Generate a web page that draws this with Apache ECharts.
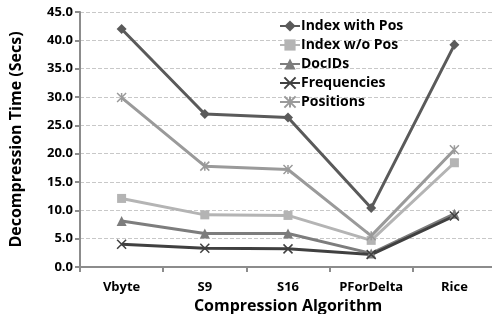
<!DOCTYPE html>
<html>
<head>
<meta charset="utf-8">
<script src="https://cdn.jsdelivr.net/npm/echarts@6/dist/echarts.min.js"></script>
<style>
  html, body { margin: 0; padding: 0; background: #fff; }
  #chart { width: 492px; height: 314px; }
</style>
</head>
<body>
<div id="chart"></div>
<script>
const categories = ["Vbyte", "S9", "S16", "PForDelta", "Rice"];
const indexWithPos = [42.0, 27.0, 26.4, 10.4, 39.2];
const indexWoPos = [12.1, 9.2, 9.1, 4.7, 18.4];
const docIds = [8.1, 5.9, 5.9, 2.4, 9.4];
const frequencies = [4.0, 3.3, 3.2, 2.2, 9.0];
const positions = [29.9, 17.8, 17.2, 5.5, 20.7];

const font = "'Open Sans', sans-serif";
const crossPath = "path://M0,0L10,10M10,0L0,10";
const starPath = "path://M0,0L10,10M10,0L0,10M5,0L5,10";

function makeSeries(name, data, color, symbol, size, stroked) {
  return {
    name: name,
    type: "line",
    data: data,
    symbol: symbol,
    symbolSize: size,
    showSymbol: true,
    lineStyle: { width: 3, color: color },
    itemStyle: stroked
      ? { color: "rgba(0,0,0,0)", borderColor: color, borderWidth: 1.5 }
      : { color: color },
    emphasis: { disabled: true },
  };
}

const chart = echarts.init(document.getElementById("chart"));
chart.setOption({
  animation: false,
  textStyle: { fontFamily: font },
  grid: { left: 80, right: -4, top: 12, bottom: 47, containLabel: false, outerBoundsMode: "none" },
  legend: {
    orient: "vertical",
    left: 274,
    top: 14,
    itemGap: 5,
    itemWidth: 20,
    itemHeight: 14,
    textStyle: { fontFamily: font, fontWeight: "bold", fontSize: 14, color: "#000", padding: [0, 0, 0, -4] },
    data: ["Index with Pos", "Index w/o Pos", "DocIDs", "Frequencies", "Positions"],
  },
  xAxis: {
    type: "category",
    data: categories,
    boundaryGap: true,
    name: "Compression Algorithm",
    nameLocation: "middle",
    nameGap: 30,
    nameTextStyle: { fontFamily: font, fontWeight: "bold", fontSize: 16, color: "#000" },
    axisLine: { lineStyle: { color: "#8c8c8c", width: 2 } },
    axisTick: { show: true, alignWithLabel: false, length: 5, lineStyle: { color: "#8c8c8c", width: 2 } },
    axisLabel: { interval: 0, fontFamily: font, fontWeight: "bold", fontSize: 13, color: "#000", margin: 14 },
  },
  yAxis: {
    type: "value",
    min: 0,
    max: 45,
    interval: 5,
    name: "Decompression Time (Secs)",
    nameLocation: "middle",
    nameGap: 56,
    nameTextStyle: { fontFamily: font, fontWeight: "bold", fontSize: 16, color: "#000" },
    axisLine: { show: true, lineStyle: { color: "#8c8c8c", width: 2 } },
    axisTick: { show: true, length: 5, lineStyle: { color: "#8c8c8c", width: 2 } },
    axisLabel: { fontFamily: font, fontWeight: "bold", fontSize: 13, color: "#000", margin: 7, formatter: (v) => v.toFixed(1) },
    splitLine: { show: true, lineStyle: { type: "dashed", color: "#c8c8c8", width: 1 } },
  },
  series: [
    makeSeries("Index with Pos", indexWithPos, "#5a5a5a", "diamond", 10, false),
    makeSeries("Index w/o Pos", indexWoPos, "#b4b4b4", "rect", 9, false),
    makeSeries("DocIDs", docIds, "#7d7d7d", "triangle", 10, false),
    makeSeries("Frequencies", frequencies, "#404040", crossPath, 9, true),
    makeSeries("Positions", positions, "#9a9a9a", starPath, 9, true),
  ],
});
</script>
</body>
</html>
